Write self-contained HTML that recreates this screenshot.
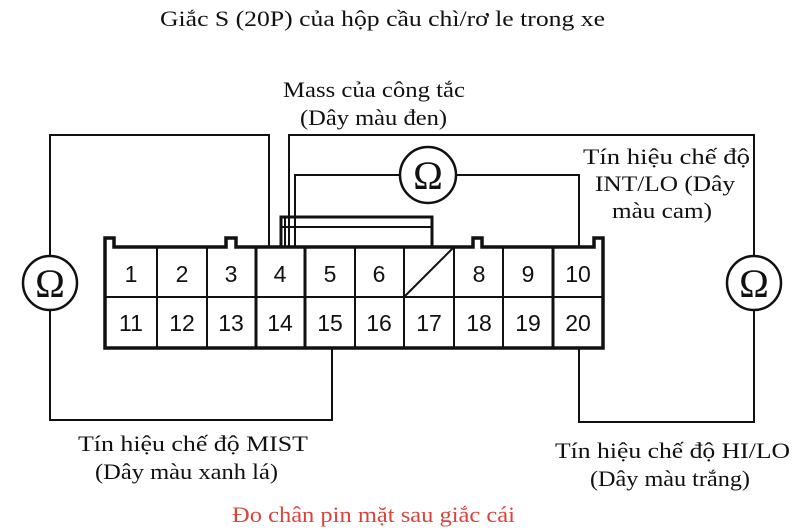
<!DOCTYPE html>
<html><head><meta charset="utf-8"><style>
html,body{margin:0;padding:0;background:#fff;}
svg{display:block;}
text{font-family:"Liberation Serif",serif;font-size:22px;fill:#111;}
.n{font-family:"Liberation Sans",sans-serif;font-size:23px;}
</style></head><body>
<svg width="800" height="532" viewBox="0 0 800 532" xmlns="http://www.w3.org/2000/svg">
<text x="160" y="26" textLength="445" lengthAdjust="spacingAndGlyphs">Giắc S (20P) của hộp cầu chì/rơ le trong xe</text>
<text x="283" y="97" textLength="182" lengthAdjust="spacingAndGlyphs">Mass của công tắc</text>
<text x="300" y="125" textLength="147" lengthAdjust="spacingAndGlyphs">(Dây màu đen)</text>
<text x="583" y="164" textLength="167" lengthAdjust="spacingAndGlyphs">Tín hiệu chế độ</text>
<text x="595" y="191" textLength="140" lengthAdjust="spacingAndGlyphs">INT/LO (Dây</text>
<text x="612" y="218" textLength="100" lengthAdjust="spacingAndGlyphs">màu cam)</text>
<text x="78" y="451" textLength="230" lengthAdjust="spacingAndGlyphs">Tín hiệu chế độ MIST</text>
<text x="95" y="479" textLength="183" lengthAdjust="spacingAndGlyphs">(Dây màu xanh lá)</text>
<text x="555" y="458" textLength="235" lengthAdjust="spacingAndGlyphs">Tín hiệu chế độ HI/LO</text>
<text x="590" y="486" textLength="160" lengthAdjust="spacingAndGlyphs">(Dây màu trắng)</text>
<text x="232" y="522" textLength="283" lengthAdjust="spacingAndGlyphs" style="fill:#d9443c">Đo chân pin mặt sau giắc cái</text>

<g fill="none" stroke="#111" stroke-width="2">
<polyline points="269,247 269,135 50,135 50,256"/>
<polyline points="50,311 50,420 332,420 332,348"/>
<polyline points="289,247 289,135 754,135 754,256"/>
<polyline points="754,311 754,422 579,422 579,348"/>
<polyline points="295,247 295,175 400,175"/>
<polyline points="456,175 579,175 579,247"/>
<polyline points="281,247 281,217 432,217 432,247" stroke-width="3"/>
<line x1="281" y1="227" x2="432" y2="227"/>
<line x1="285" y1="217" x2="285" y2="247"/>
<circle cx="50" cy="283" r="27" stroke-width="2.5"/>
<circle cx="754" cy="283" r="27" stroke-width="2.5"/>
<circle cx="428" cy="175" r="28" stroke-width="2.5"/>
</g>
<text x="50" y="297" text-anchor="middle" style="font-size:40px">Ω</text>
<text x="754" y="297" text-anchor="middle" style="font-size:40px">Ω</text>
<text x="428" y="189" text-anchor="middle" style="font-size:40px">Ω</text>

<g fill="none" stroke="#111">
<path d="M105,348 V238 H114 V247 H226 V238 H236 V247 H473 V238 H482 V247 H594 V238 H603 V348 Z" stroke-width="3.5" fill="#fff"/>
<line x1="105" y1="297" x2="603" y2="297" stroke-width="2"/>
<g stroke-width="2">
<line x1="157" y1="247" x2="157" y2="348"/>
<line x1="207" y1="247" x2="207" y2="348"/>
<line x1="256" y1="247" x2="256" y2="348" stroke-width="3"/>
<line x1="305" y1="247" x2="305" y2="348" stroke-width="3"/>
<line x1="355" y1="247" x2="355" y2="348"/>
<line x1="404" y1="247" x2="404" y2="348"/>
<line x1="454" y1="247" x2="454" y2="348"/>
<line x1="503" y1="247" x2="503" y2="348"/>
<line x1="553" y1="247" x2="553" y2="348" stroke-width="3"/>
<line x1="404" y1="297" x2="454" y2="247"/>
</g>
</g>
<g>
<text class="n" x="131" y="282" text-anchor="middle">1</text>
<text class="n" x="182" y="282" text-anchor="middle">2</text>
<text class="n" x="231" y="282" text-anchor="middle">3</text>
<text class="n" x="280" y="282" text-anchor="middle">4</text>
<text class="n" x="330" y="282" text-anchor="middle">5</text>
<text class="n" x="379" y="282" text-anchor="middle">6</text>
<text class="n" x="479" y="282" text-anchor="middle">8</text>
<text class="n" x="528" y="282" text-anchor="middle">9</text>
<text class="n" x="578" y="282" text-anchor="middle">10</text>
<text class="n" x="131" y="331" text-anchor="middle">11</text>
<text class="n" x="182" y="331" text-anchor="middle">12</text>
<text class="n" x="231" y="331" text-anchor="middle">13</text>
<text class="n" x="280" y="331" text-anchor="middle">14</text>
<text class="n" x="330" y="331" text-anchor="middle">15</text>
<text class="n" x="379" y="331" text-anchor="middle">16</text>
<text class="n" x="429" y="331" text-anchor="middle">17</text>
<text class="n" x="479" y="331" text-anchor="middle">18</text>
<text class="n" x="528" y="331" text-anchor="middle">19</text>
<text class="n" x="578" y="331" text-anchor="middle">20</text>
</g>
</svg>
</body></html>
